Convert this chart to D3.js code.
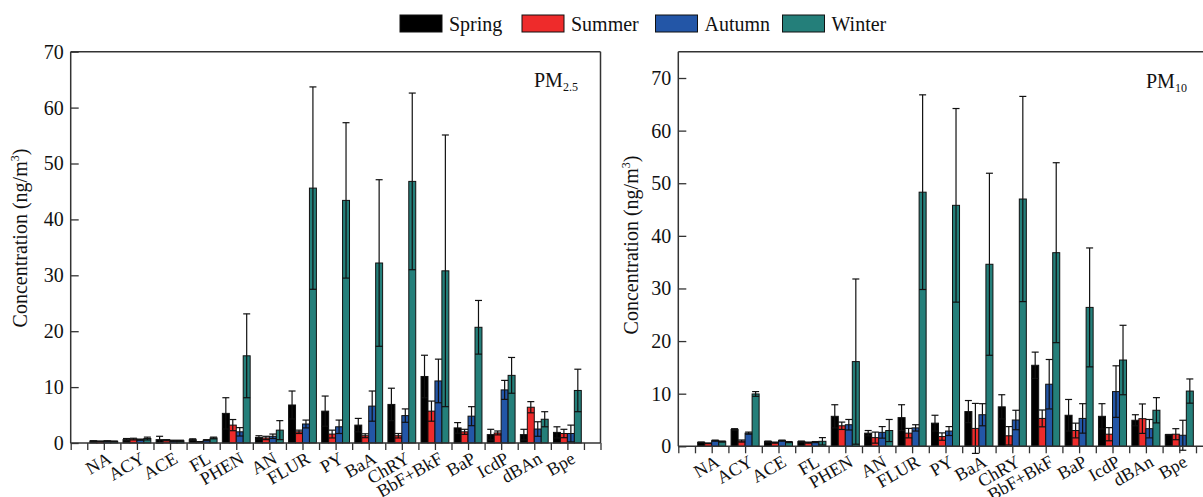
<!DOCTYPE html>
<html><head><meta charset="utf-8">
<script src="https://cdn.jsdelivr.net/npm/d3@7"></script>
<style>
html,body{margin:0;padding:0;background:#fff;}
svg{display:block;}
svg text{font-family:"Liberation Serif","Times New Roman","DejaVu Serif",serif !important;}
</style></head>
<body><svg id="chart" width="1203" height="497" font-family="Liberation Serif, Times New Roman, serif"></svg>
<script>
const categories = ["NA","ACY","ACE","FL","PHEN","AN","FLUR","PY","BaA","ChRY","BbF+BkF","BaP","IcdP","dBAn","Bpe"];
const seasons = ["Spring","Summer","Autumn","Winter"];
const yTicksLeft = [0,10,20,30,40,50,60,70];
const yTicksRight = [0,10,20,30,40,50,60,70];

// PM2.5 means
const pm25Spring = [0.35,0.6,0.6,0.6,5.3,1.0,6.8,5.7,3.2,6.9,11.9,2.7,1.5,1.5,1.9];
const pm25Summer = [0.3,0.7,0.5,0.2,3.2,0.9,2.0,1.6,1.3,1.3,5.7,2.0,1.8,6.4,1.7];
const pm25Autumn = [0.35,0.6,0.4,0.5,2.0,1.2,3.4,2.9,6.6,4.9,11.1,4.8,9.5,2.5,1.7];
const pm25Winter = [0.3,0.8,0.4,0.9,15.6,2.3,45.6,43.4,32.2,46.8,30.8,20.7,12.1,4.25,9.4];
// PM2.5 standard deviations
const pm25SpringErr = [0.05,0.2,0.6,0.15,2.8,0.3,2.5,2.7,1.2,2.9,3.8,0.95,0.95,0.95,1.0];
const pm25SummerErr = [0.05,0.15,0.1,0.05,1.0,0.3,0.3,0.7,0.35,0.4,1.8,0.45,0.35,1.0,0.75];
const pm25AutumnErr = [0.05,0.1,0.1,0.1,0.75,0.4,0.7,1.2,2.7,1.2,3.9,1.7,1.7,1.3,1.5];
const pm25WinterErr = [0.05,0.25,0.1,0.15,7.5,1.7,18.1,13.9,14.9,15.8,24.3,4.8,3.2,1.35,3.8];

// PM10 means
const pm10Spring = [0.76,3.2,0.9,0.9,5.7,2.5,5.45,4.4,6.6,7.5,15.4,5.9,5.7,4.95,2.2];
const pm10Summer = [0.57,1.0,0.7,0.7,3.9,1.65,2.5,1.85,3.4,2.0,5.3,3.0,2.3,5.25,2.3];
const pm10Autumn = [1.08,2.5,1.08,0.8,4.1,2.65,3.5,2.9,6.0,5.0,11.8,5.3,10.4,3.35,2.1];
const pm10Winter = [0.9,9.95,0.8,0.95,16.1,3.0,48.3,45.8,34.6,47.0,36.8,26.4,16.4,6.85,10.5];
// PM10 standard deviations
const pm10SpringErr = [0.05,0.15,0.1,0.1,2.2,0.5,2.45,1.5,2.1,2.3,2.5,3.0,2.4,1.05,0.05];
const pm10SummerErr = [0.05,0.2,0.1,0.1,0.7,1.05,0.9,0.7,4.75,1.75,1.6,1.4,1.25,2.8,1.05];
const pm10AutumnErr = [0.1,0.2,0.1,0.1,1.0,1.1,0.6,0.85,2.1,1.85,4.7,2.8,4.9,1.75,2.85];
const pm10WinterErr = [0.1,0.45,0.1,0.7,15.7,2.1,18.5,18.4,17.3,19.5,17.1,11.3,6.6,2.4,2.3];

const seasonColors = ["#000000","#ee2b2b","#2356a7","#247f7a"];
const FONT = "Liberation Serif";

const svg = d3.select("#chart");
const frameColor = "#333";

function panel(cfg){
  const g = svg.append("g");
  const x = d3.scaleLinear().domain([0,16]).range([cfg.x0, cfg.x1]);
  const y = d3.scaleLinear().domain([0,cfg.yMax]).range([cfg.yBottom, cfg.yTop]);
  const inner = d3.scaleBand().domain(seasons).range([-0.42,0.42]).paddingInner(0);
  const bw = x(inner.bandwidth()) - x(0);

  // bars
  cfg.means.forEach((arr, si) => {
    const s = seasons[si];
    g.append("g").selectAll("rect").data(arr).join("rect")
      .attr("x", (d,i) => x(i+1+inner(s)))
      .attr("y", d => y(d))
      .attr("width", bw)
      .attr("height", d => y(0)-y(d))
      .attr("fill", seasonColors[si])
      .attr("stroke", "#111")
      .attr("stroke-width", 1);
  });
  // error bars
  cfg.means.forEach((arr, si) => {
    const s = seasons[si];
    const errs = cfg.errs[si];
    const eg = g.append("g").attr("stroke","#111").attr("stroke-width",1.2);
    arr.forEach((d,i) => {
      const cx = x(i+1+inner(s)) + bw/2;
      const lo = y(d - errs[i]), hi = y(d + errs[i]);
      eg.append("line").attr("x1",cx).attr("x2",cx).attr("y1",lo).attr("y2",hi);
      eg.append("line").attr("x1",cx-3.5).attr("x2",cx+3.5).attr("y1",hi).attr("y2",hi);
      eg.append("line").attr("x1",cx-3.5).attr("x2",cx+3.5).attr("y1",lo).attr("y2",lo);
    });
  });

  // y axis
  const ya = g.append("g").attr("transform",`translate(${cfg.x0},0)`)
    .call(d3.axisLeft(y).tickValues(cfg.yTicks).tickSize(-8).tickPadding(7).tickFormat(d3.format("d")));
  ya.attr("font-family",FONT);
  ya.select(".domain").remove();
  ya.selectAll(".tick line").attr("stroke",frameColor).attr("stroke-width",1.3);
  ya.selectAll(".tick text").attr("font-size",20).attr("font-family",FONT).attr("fill","#111");

  // x axis ticks
  const xa = g.append("g").attr("transform",`translate(0,${cfg.yBottom})`)
    .call(d3.axisBottom(x).tickValues(d3.range(0,16.01,0.5)).tickSize(7).tickFormat(""));
  xa.select(".domain").remove();
  xa.selectAll(".tick line").attr("stroke",frameColor).attr("stroke-width",1.3);

  // frame
  const fr = g.append("g").attr("stroke",frameColor).attr("stroke-width",1.5).attr("fill","none");
  fr.append("line").attr("x1",cfg.x0).attr("x2",cfg.x1).attr("y1",cfg.yTop).attr("y2",cfg.yTop);
  fr.append("line").attr("x1",cfg.x0).attr("x2",cfg.x1).attr("y1",cfg.yBottom).attr("y2",cfg.yBottom);
  fr.append("line").attr("x1",cfg.x0).attr("x2",cfg.x0).attr("y1",cfg.yTop).attr("y2",cfg.yBottom);
  fr.append("line").attr("x1",cfg.x1).attr("x2",cfg.x1).attr("y1",cfg.yTop).attr("y2",cfg.yBottom);

  // category labels
  g.append("g").selectAll("text").data(categories).join("text")
    .attr("transform",(d,i)=>`translate(${x(i+1)+9},${cfg.yBottom+19}) rotate(-30)`)
    .attr("text-anchor","end")
    .attr("font-family",FONT)
    .attr("font-size",18)
    .attr("fill","#111")
    .text(d=>d);

  // y title
  const t = g.append("text")
    .attr("transform",`translate(${cfg.titleX},${cfg.titleY}) rotate(-90)`)
    .attr("text-anchor","middle").attr("font-family",FONT).attr("font-size",20).attr("fill","#111");
  t.append("tspan").text("Concentration (ng/m");
  t.append("tspan").attr("font-size",12).attr("dy",-8).text("3");
  t.append("tspan").attr("dy",8).text(")");

  // panel label
  const pl = g.append("text").attr("x",cfg.labelX).attr("y",cfg.labelY).attr("font-family",FONT).attr("font-size",20).attr("fill","#111");
  pl.append("tspan").text("PM");
  pl.append("tspan").attr("font-size",12).attr("dy",4).text(cfg.sub);
}

panel({x0:70.7, x1:600.5, yTop:51.7, yBottom:443, yMax:70, yTicks:yTicksLeft,
  means:[pm25Spring,pm25Summer,pm25Autumn,pm25Winter],
  errs:[pm25SpringErr,pm25SummerErr,pm25AutumnErr,pm25WinterErr],
  titleX:27, titleY:238, labelX:534, labelY:87, sub:"2.5"});
panel({x0:678.3, x1:1212.7, yTop:51.7, yBottom:446.3, yMax:75, yTicks:yTicksRight,
  means:[pm10Spring,pm10Summer,pm10Autumn,pm10Winter],
  errs:[pm10SpringErr,pm10SummerErr,pm10AutumnErr,pm10WinterErr],
  titleX:638, titleY:245, labelX:1146, labelY:88, sub:"10"});

// legend
const legendX = [400,522,655.5,782.5];
const lg = svg.append("g");
seasons.forEach((s,i)=>{
  lg.append("rect").attr("x",legendX[i]).attr("y",15).attr("width",42).attr("height",17)
    .attr("fill",seasonColors[i]).attr("stroke","#111").attr("stroke-width",1);
  lg.append("text").attr("x",legendX[i]+49).attr("y",30.5).attr("font-family",FONT).attr("font-size",20).attr("fill","#111").text(s);
});
</script></body></html>
